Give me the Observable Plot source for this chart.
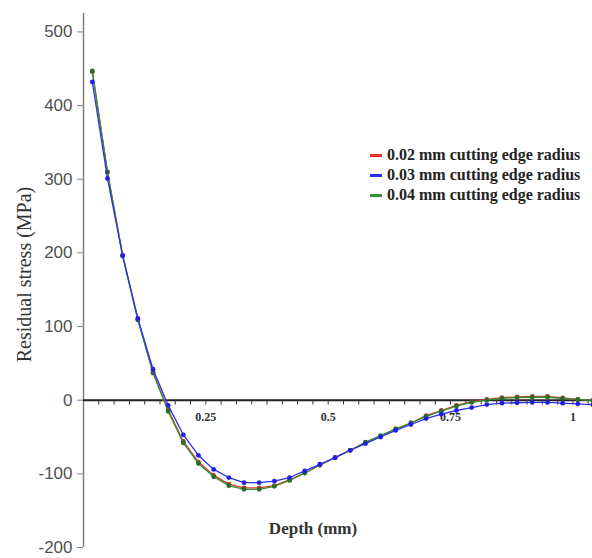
<!DOCTYPE html>
<html>
<head>
<meta charset="utf-8">
<script src="https://cdn.jsdelivr.net/npm/d3@7"></script>
<script src="https://cdn.jsdelivr.net/npm/@observablehq/plot@0.6"></script>
<style>
  html, body { margin: 0; padding: 0; background: #fff; }
  #wrap { position: relative; width: 592px; height: 558px; }
  #legend { position: absolute; left: 370px; top: 145px; font-family: "Liberation Serif", "Times New Roman", serif; font-weight: bold; font-size: 16px; color: #222; }
  #legend .row { display: flex; align-items: center; height: 20px; white-space: nowrap; }
  #legend .sw { width: 12px; height: 3px; margin-right: 5px; }
</style>
</head>
<body>
<div id="wrap"></div>
<script>
// Depth (mm) of each sampled point
const depth = [0.018, 0.049, 0.080, 0.111, 0.142, 0.173, 0.204, 0.235, 0.266, 0.297,
               0.328, 0.359, 0.390, 0.421, 0.452, 0.483, 0.514, 0.545, 0.576, 0.607,
               0.638, 0.669, 0.700, 0.731, 0.762, 0.793, 0.824, 0.855, 0.886, 0.917,
               0.948, 0.979, 1.010, 1.041];
// Residual stress (MPa)
const r002 = [446, 309, 197, 110, 38, -13, -56, -84, -102, -114,
              -119, -119, -116, -108, -99, -88, -78, -68, -58, -49,
              -39, -31, -21, -14, -7, -2, 1, 3.5, 4.5, 5,
              5, 3, 1, 0];
const r003 = [432, 301, 196, 111, 42, -7, -47, -75, -94, -105,
              -112, -112, -110, -105, -96, -87, -78, -68, -59, -50,
              -41, -33, -25, -19, -14, -10, -6, -4, -3.5, -3,
              -3, -4, -5, -6];
const r004 = [447, 310, 196, 109, 37, -15, -58, -86, -104, -116,
              -121, -121, -117, -109, -99, -88, -78, -68, -57, -48,
              -39, -31, -22, -15, -8, -3, 0, 2.5, 3.5, 4,
              4, 2.5, 1, -0.5];
const seriesNames = ["0.02 mm cutting edge radius", "0.03 mm cutting edge radius", "0.04 mm cutting edge radius"];
const lineColors = ["#e8302c", "#2f2ff0", "#2e9132"];
const dotColors = ["#b8401c", "#1f1fe8", "#2b6b2b"];
const yTicks = [-200, -100, 0, 100, 200, 300, 400, 500];
const xMajorTicks = [0.25, 0.5, 0.75, 1];
const xMinorTicks = d3.range(1, 34).map(k => k / 32);
const xLabel = "Depth (mm)";
const yLabel = "Residual stress (MPa)";

const values = [r002, r003, r004];
const data = values.flatMap((arr, s) => arr.map((v, i) => ({depth: depth[i], stress: v, series: seriesNames[s]})));
const drawOrder = [0, 2, 1];

const marks = [
  Plot.ruleX([0], {stroke: "#808080", strokeWidth: 1.5}),
  Plot.axisY(yTicks, {tickSize: 6, tickPadding: 5, tickFormat: d => String(d), fontSize: 17, stroke: "#808080", fill: "#505050", label: null, fontFamily: "Liberation Sans, Arial, sans-serif"}),
  Plot.ruleY([0], {stroke: "#222", strokeWidth: 2}),
  Plot.ruleX(xMinorTicks, {x: d => d, y1: 0, y2: -6.5, stroke: "#333", strokeWidth: 1}),
  Plot.text(xMajorTicks, {x: d => d, y: 0, dy: 17, text: d => String(d), fontSize: 12, fontWeight: "bold", fontFamily: "Liberation Serif, Times New Roman, serif", fill: "#333"})
];
for (const s of drawOrder) {
  const sub = data.filter(d => d.series === seriesNames[s]);
  marks.push(Plot.line(sub, {x: "depth", y: "stress", stroke: lineColors[s], strokeWidth: 1.3}));
  marks.push(Plot.dot(sub, {x: "depth", y: "stress", r: 2.4, fill: dotColors[s], stroke: "none"}));
}
marks.push(Plot.text([yLabel], {frameAnchor: "left", textAnchor: "middle", rotate: -90, dx: -59, dy: -6, text: d => d, fontSize: 20, fontFamily: "Liberation Serif, Times New Roman, serif", fill: "#333"}));
marks.push(Plot.text([xLabel], {frameAnchor: "bottom", dx: -25, dy: -14, text: d => d, fontSize: 17, fontWeight: "bold", fontFamily: "Liberation Serif, Times New Roman, serif", fill: "#333"}));

const chart = Plot.plot({
  width: 592,
  height: 558,
  marginLeft: 83,
  marginRight: 0,
  marginTop: 13,
  marginBottom: 11,
  x: {domain: [0, 1.04], axis: null},
  y: {domain: [-200, 525]},
  style: {background: "#fff", color: "#505050", overflow: "visible"},
  marks
});
const wrap = document.getElementById("wrap");
wrap.appendChild(chart);

const legend = document.createElement("div");
legend.id = "legend";
seriesNames.forEach((name, i) => {
  const row = document.createElement("div");
  row.className = "row";
  const sw = document.createElement("span");
  sw.className = "sw";
  sw.style.background = lineColors[i];
  const t = document.createElement("span");
  t.textContent = name;
  row.appendChild(sw);
  row.appendChild(t);
  legend.appendChild(row);
});
wrap.appendChild(legend);
</script>
</body>
</html>
